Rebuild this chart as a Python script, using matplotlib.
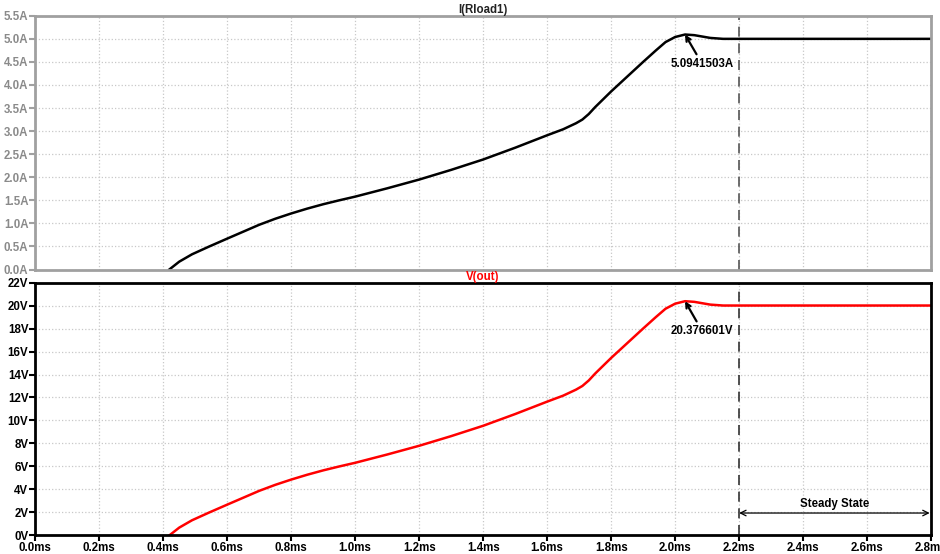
import matplotlib.pyplot as plt
from matplotlib.ticker import MultipleLocator, FuncFormatter

# transient results, time in ms
time_ms = [0.419, 0.45, 0.49, 0.544, 0.6, 0.65, 0.7, 0.75, 0.8, 0.85, 0.9, 0.95,
           1.0, 1.1, 1.2, 1.3, 1.4, 1.5, 1.6, 1.65, 1.69, 1.71, 1.73, 1.75,
           1.775, 1.8, 1.85, 1.9, 1.94, 1.97, 2.0, 2.031, 2.06, 2.085, 2.11,
           2.15, 2.2, 2.8]
i_rload1 = [0.0, 0.17, 0.33, 0.50, 0.67, 0.82, 0.97, 1.10, 1.215, 1.32, 1.415,
            1.50, 1.58, 1.76, 1.95, 2.16, 2.385, 2.64, 2.91, 3.04, 3.17, 3.25,
            3.37, 3.52, 3.69, 3.86, 4.18, 4.50, 4.75, 4.93, 5.04, 5.0941503,
            5.08, 5.05, 5.02, 5.0, 5.0, 5.0]
v_out = [0.0, 0.68, 1.32, 2.00, 2.68, 3.28, 3.88, 4.40, 4.86, 5.28, 5.66,
         6.00, 6.32, 7.04, 7.80, 8.64, 9.54, 10.56, 11.64, 12.16, 12.68, 13.00,
         13.48, 14.08, 14.76, 15.44, 16.72, 18.00, 19.00, 19.72, 20.16,
         20.376601, 20.32, 20.2, 20.08, 20.0, 20.0, 20.0]

peak_t = 2.031
peak_i = 5.0941503
peak_v = 20.376601
steady_start = 2.2
t_end = 2.8

plt.rcParams['font.family'] = ['Liberation Sans', 'DejaVu Sans']
plt.rcParams['font.weight'] = 'bold'
fs = 8.3

fig = plt.figure(figsize=(9.4, 5.54), dpi=100)
ax1 = fig.add_axes([0.0375, 0.5135, 0.953, 0.458])
ax2 = fig.add_axes([0.0375, 0.0335, 0.953, 0.4565])

grey = '#a0a0a0'


def style_axes(ax, edge, label_color):
    ax.set_xlim(0, t_end)
    ax.xaxis.set_major_locator(MultipleLocator(0.2))
    ax.grid(True, color='#c8c8c8', linestyle=':', linewidth=0.9)
    ax.set_axisbelow(True)
    for side in ax.spines.values():
        side.set_color(edge)
        side.set_linewidth(2)
    ax.tick_params(axis='both', direction='out', length=4, width=1.5,
                   color=edge, labelcolor=label_color, labelsize=fs, pad=1)


# current through the load
ax1.plot(time_ms, i_rload1, color='black', linewidth=1.8, zorder=2)
style_axes(ax1, grey, '#8a8a8a')
ax1.set_ylim(0, 5.5)
ax1.yaxis.set_major_locator(MultipleLocator(0.5))
ax1.yaxis.set_major_formatter(FuncFormatter(lambda v, p: f'{v:.1f}A'))
ax1.tick_params(axis='x', labelbottom=False, length=0)
ax1.axvline(steady_start, color='#555555', linewidth=1.2, dashes=(6, 4))
ax1.set_title('I(Rload1)', fontsize=fs, fontweight='bold', color='#222222', pad=2)
ax1.annotate(f'{peak_i:.7f}A', xy=(peak_t, peak_i), xytext=(2.085, 4.45),
             ha='center', va='center', fontsize=fs, fontweight='bold',
             arrowprops=dict(arrowstyle='->', color='black', lw=1.6,
                             shrinkA=1, shrinkB=0))

# output voltage
ax2.plot(time_ms, v_out, color='red', linewidth=1.8, zorder=2)
style_axes(ax2, 'black', 'black')
ax2.set_ylim(0, 22)
ax2.yaxis.set_major_locator(MultipleLocator(2))
ax2.yaxis.set_major_formatter(FuncFormatter(lambda v, p: f'{v:.0f}V'))
ax2.xaxis.set_major_formatter(FuncFormatter(lambda v, p: f'{v:.1f}ms'))
ax2.axvline(steady_start, color='#333333', linewidth=1.2, dashes=(6, 4))
ax2.set_title('V(out)', fontsize=fs, fontweight='bold', color='red', pad=0)
ax2.annotate(f'{peak_v:.6f}V', xy=(peak_t, peak_v), xytext=(2.085, 17.75),
             ha='center', va='center', fontsize=fs, fontweight='bold',
             arrowprops=dict(arrowstyle='->', color='black', lw=1.6,
                             shrinkA=1, shrinkB=0))

# steady-state span
ax2.annotate('', xy=(steady_start, 1.95), xytext=(t_end, 1.95),
             arrowprops=dict(arrowstyle='<->', color='black', lw=0.9,
                             shrinkA=1, shrinkB=0))
ax2.text((steady_start + t_end) / 2, 2.75, 'Steady State', ha='center',
         va='center', fontsize=fs, fontweight='bold')

fig.savefig('out.png', dpi=100)
